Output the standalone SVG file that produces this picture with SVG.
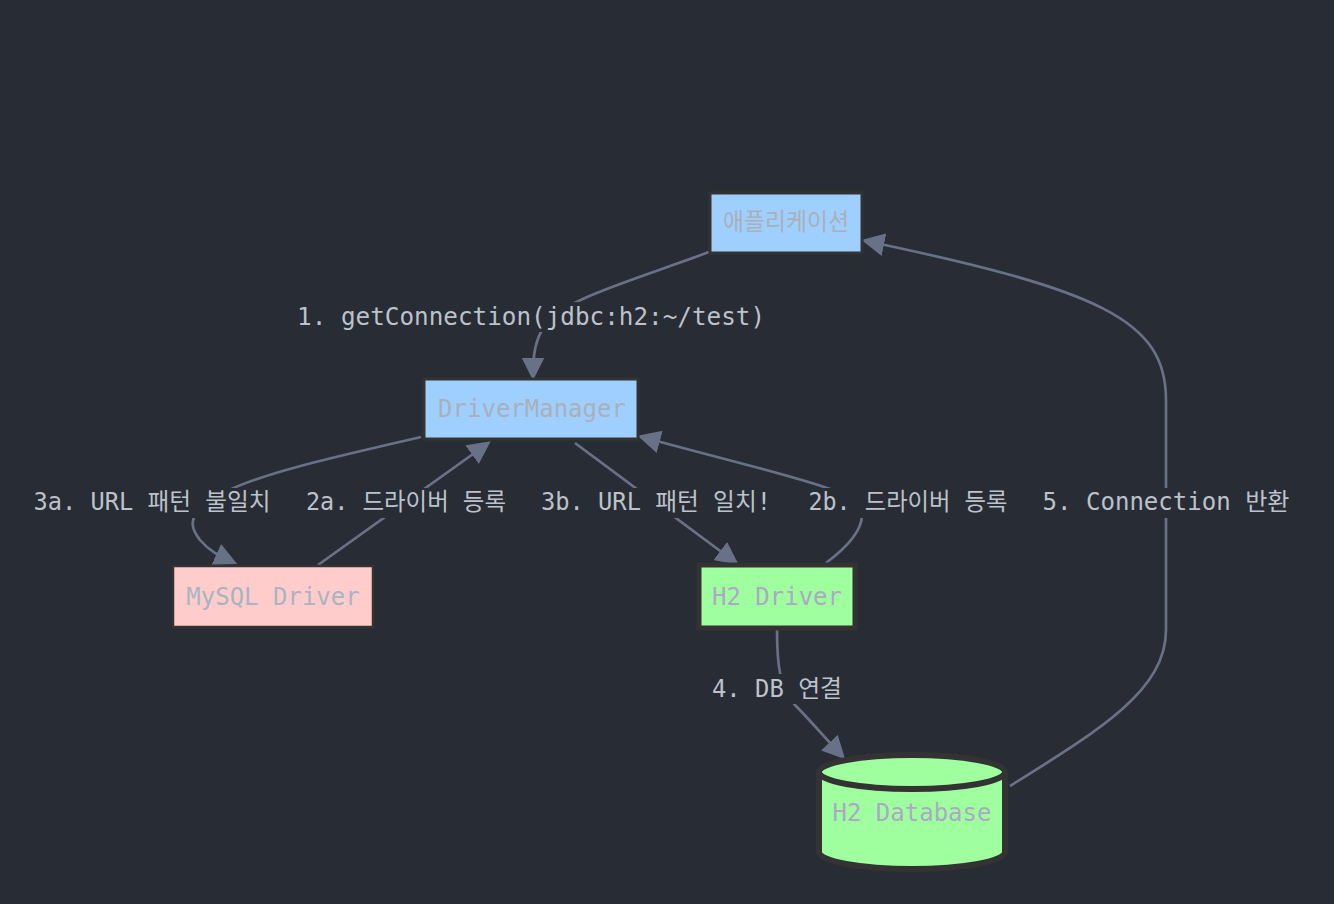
<svg xmlns="http://www.w3.org/2000/svg" width="1334" height="904" viewBox="0 0 1334 904">
<defs>
<style>
.edge{fill:none;stroke:#687186;stroke-width:2.7}
.lbl{font-family:"DejaVu Sans Mono","Noto Sans CJK KR",monospace;font-size:24px;fill:#bcc2cc;text-anchor:middle;dominant-baseline:central}
.ntx{font-family:"DejaVu Sans Mono","Noto Sans CJK KR",monospace;font-size:24px;text-anchor:middle;dominant-baseline:central}
.lbg{fill:#282c34}
</style>
<marker id="a" viewBox="0 0 10 10" refX="8" refY="5" markerWidth="8.5" markerHeight="8.5" orient="auto">
<path d="M0,0 L10,5 L0,10 z" fill="#687186"/>
</marker>
</defs>
<rect width="1334" height="904" fill="#282c34"/>
<g id="connectors">
<path class="edge" marker-end="url(#a)" d="M709,252 C640,278 560,300 545,325 C535,340 533,355 533,376"/>
<path class="edge" marker-end="url(#a)" d="M421,437 C340,456 265,472 225,492 C180,515 193,530 200,540 C210,552 222,557 233,562"/>
<path class="edge" marker-end="url(#a)" d="M318,565 L487,444"/>
<path class="edge" marker-end="url(#a)" d="M575,443 L735,562"/>
<path class="edge" marker-end="url(#a)" d="M826,563 C850,545 862,530 862,515 C862,490 800,480 642,437"/>
<path class="edge" marker-end="url(#a)" d="M777,630 C777,665 780,690 795,705 C810,720 825,738 842,756"/>
<path class="edge" marker-end="url(#a)" d="M1010,786 C1100,730 1166,690 1166,630 L1166,400 C1166,320 1100,290 866,241"/>
</g>
<g id="labels">
<rect class="lbg" x="294" y="302" width="474" height="30"/>
<text class="lbl" x="531" y="317" textLength="468" lengthAdjust="spacingAndGlyphs">1. getConnection(jdbc:h2:~/test)</text>
<rect class="lbg" x="30" y="488" width="243" height="30"/>
<text class="lbl" x="152" y="502" textLength="237" lengthAdjust="spacingAndGlyphs">3a. URL 패턴 불일치</text>
<rect class="lbg" x="303" y="488" width="206" height="30"/>
<text class="lbl" x="406" y="502" textLength="200" lengthAdjust="spacingAndGlyphs">2a. 드라이버 등록</text>
<rect class="lbg" x="538" y="488" width="236" height="30"/>
<text class="lbl" x="656" y="502" textLength="230" lengthAdjust="spacingAndGlyphs">3b. URL 패턴 일치!</text>
<rect class="lbg" x="805" y="488" width="205" height="30"/>
<text class="lbl" x="908" y="502" textLength="199" lengthAdjust="spacingAndGlyphs">2b. 드라이버 등록</text>
<rect class="lbg" x="1040" y="488" width="253" height="30"/>
<text class="lbl" x="1166" y="502" textLength="247" lengthAdjust="spacingAndGlyphs">5. Connection 반환</text>
<rect class="lbg" x="709" y="674" width="136" height="30"/>
<text class="lbl" x="777" y="689" textLength="130" lengthAdjust="spacingAndGlyphs">4. DB 연결</text>
</g>
<g id="app">
<rect x="710" y="193" width="152" height="60" fill="#9fcfff" stroke="#333333" stroke-width="3"/>
<text class="ntx" x="786" y="222" fill="#a9b0b8" textLength="126" lengthAdjust="spacingAndGlyphs">애플리케이션</text>
</g>
<g id="drivermanager">
<rect x="424" y="379" width="214" height="60" fill="#9fcfff" stroke="#333333" stroke-width="3"/>
<text class="ntx" x="532" y="409" fill="#a9b0b8">DriverManager</text>
</g>
<g id="mysql">
<rect x="173" y="566" width="200" height="61" fill="#ffcccc" stroke="#333333" stroke-width="2.5"/>
<text class="ntx" x="273" y="597" fill="#a8b4c2">MySQL Driver</text>
</g>
<g id="h2driver">
<rect x="699" y="565" width="156" height="63" fill="#9fff9f" stroke="#333333" stroke-width="5"/>
<text class="ntx" x="777" y="597" fill="#ada8c6">H2 Driver</text>
</g>
<g id="h2db">
<path d="M819,772 L819,852 A93,17 0 0 0 1005,852 L1005,772" fill="#9fff9f" stroke="#333333" stroke-width="6"/>
<ellipse cx="912" cy="772" rx="93" ry="17" fill="#9fff9f" stroke="#333333" stroke-width="6"/>
<text class="ntx" x="912" y="813" fill="#ada8c6">H2 Database</text>
</g>
</svg>
